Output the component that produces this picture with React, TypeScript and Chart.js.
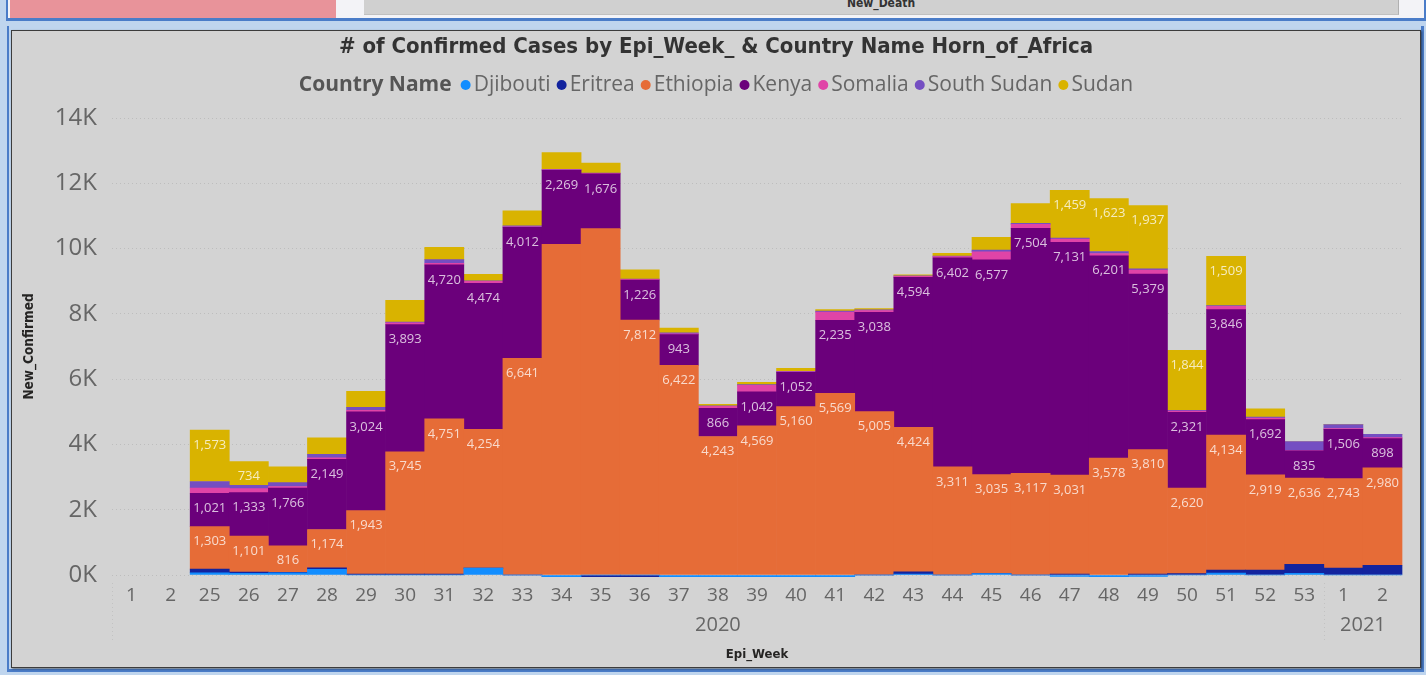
import { useEffect, useRef } from "react";
import { Chart, registerables } from "chart.js";

Chart.register(...registerables);

// ---------- data ----------
const weeks = ["1", "2", "25", "26", "27", "28", "29", "30", "31", "32", "33", "34", "35", "36", "37", "38", "39", "40", "41", "42", "43", "44", "45", "46", "47", "48", "49", "50", "51", "52", "53", "1", "2"];
const weekYears = ["2020", "2020", "2020", "2020", "2020", "2020", "2020", "2020", "2020", "2020", "2020", "2020", "2020", "2020", "2020", "2020", "2020", "2020", "2020", "2020", "2020", "2020", "2020", "2020", "2020", "2020", "2020", "2020", "2020", "2020", "2020", "2021", "2021"];

const djibouti = [null, null, 70, 50, 70, 170, 0, 0, 0, 210, 0, -50, 0, 0, -50, -50, -50, -50, -50, 0, 30, 0, 40, 0, -40, -50, -40, 0, 60, 0, 50, 0, 0];
const eritrea = [null, null, 110, 40, 10, 50, 30, 30, 30, 0, 0, 0, -50, -50, 0, 0, 0, 0, 0, 0, 70, 0, 0, 0, 30, 0, 30, 40, 90, 150, 280, 210, 300];
const ethiopia = [null, null, 1303, 1101, 816, 1174, 1943, 3745, 4751, 4254, 6641, 10130, 10610, 7812, 6422, 4243, 4569, 5160, 5569, 5005, 4424, 3311, 3035, 3117, 3031, 3578, 3810, 2620, 4134, 2919, 2636, 2743, 2980];
const kenya = [null, null, 1021, 1333, 1766, 2149, 3024, 3893, 4720, 4474, 4012, 2269, 1676, 1226, 943, 866, 1042, 1052, 2235, 3038, 4594, 6402, 6577, 7504, 7131, 6201, 5379, 2321, 3846, 1692, 835, 1506, 898];
const somalia = [null, null, 160, 120, 50, 50, 50, 60, 50, 60, 10, 10, 20, 20, 20, 60, 200, 10, 250, 60, 30, 40, 250, 120, 100, 70, 120, 40, 100, 50, 10, 30, 30];
const southSudan = [null, null, 200, 100, 120, 100, 90, 20, 110, 10, 30, 20, 10, 10, 30, 10, 20, 20, 30, 20, 20, 20, 50, 30, 30, 60, 40, 20, 20, 30, 280, 120, 100];
const sudan = [null, null, 1573, 734, 480, 510, 490, 670, 380, 200, 460, 510, 300, 280, 150, 50, 70, 90, 50, 40, 30, 80, 390, 610, 1459, 1623, 1937, 1844, 1509, 250, 0, 0, 0];

const countries = ["Djibouti", "Eritrea", "Ethiopia", "Kenya", "Somalia", "South Sudan", "Sudan"];
const countryColors = ["#118DFF", "#12239E", "#E66C37", "#6B007B", "#E044A7", "#744EC2", "#D9B300"];
const seriesValues = [djibouti, eritrea, ethiopia, kenya, somalia, southSudan, sudan];

const yTicks = [0, 2000, 4000, 6000, 8000, 10000, 12000, 14000];
const labelledSeries = ["Ethiopia", "Kenya", "Sudan"];
const minLabelValue = 700;
const ethiopiaUnlabelledWeeks = ["34", "35"];

const TITLE = "# of Confirmed Cases by Epi_Week_ & Country Name Horn_of_Africa";
const LEGEND_TITLE = "Country Name";

const COND = "'DejaVu Sans Condensed', 'Liberation Sans Narrow', 'Open Sans', sans-serif";
const SANS = "'Open Sans', 'Noto Sans', sans-serif";

// year groups derived from weekYears
function yearGroups() {
  const groups: { year: string; first: number; last: number; center: number }[] = [];
  weekYears.forEach((y, i) => {
    const g = groups.find((gg) => gg.year === y);
    if (g) g.last = i;
    else groups.push({ year: y, first: i, last: i, center: 0 });
  });
  groups.forEach((g) => (g.center = (g.first + g.last) / 2));
  return groups;
}

const overlayPlugin = {
  id: "overlay",
  afterDraw(chart: any) {
    const ctx = chart.ctx;
    const w = chart.width;
    ctx.save();
    // title
    ctx.font = `bold 22px ${COND}`;
    ctx.fillStyle = "#333333";
    ctx.textAlign = "center";
    ctx.textBaseline = "middle";
    ctx.fillText(TITLE, w / 2, 15);

    // legend
    const ly = 53;
    const fs = 21;
    ctx.font = `bold ${fs}px ${SANS}`;
    const tW = ctx.measureText(LEGEND_TITLE).width;
    ctx.font = `${fs}px ${SANS}`;
    const dotD = 10, dotGap = 3, itemGap = 6, titleGap = 9;
    const items = chart.data.datasets.map((ds: any) => ({
      label: ds.label,
      color: ds.backgroundColor,
      w: ctx.measureText(ds.label).width,
    }));
    let total = tW + titleGap;
    items.forEach((it: any, i: number) => {
      total += dotD + dotGap + it.w + (i < items.length - 1 ? itemGap : 0);
    });
    let x = w / 2 - total / 2;
    ctx.textAlign = "left";
    ctx.font = `bold ${fs}px ${SANS}`;
    ctx.fillStyle = "#555555";
    ctx.fillText(LEGEND_TITLE, x, ly);
    x += tW + titleGap;
    ctx.font = `${fs}px ${SANS}`;
    items.forEach((it: any) => {
      ctx.fillStyle = it.color;
      ctx.beginPath();
      ctx.arc(x + dotD / 2, ly, dotD / 2, 0, Math.PI * 2);
      ctx.fill();
      x += dotD + dotGap;
      ctx.fillStyle = "#666666";
      ctx.fillText(it.label, x, ly);
      x += it.w + itemGap;
    });

    // hierarchy separators on the year axis
    const x2 = chart.scales.x2;
    const xs = chart.scales.x;
    ctx.strokeStyle = "#c2c2c2";
    ctx.lineWidth = 1;
    ctx.setLineDash([1, 3]);
    yearGroups().forEach((g) => {
      const px = Math.round(x2.getPixelForValue(g.first - 0.5)) + 0.5;
      ctx.beginPath();
      ctx.moveTo(px, xs.top + 8);
      ctx.lineTo(px, x2.bottom - 26);
      ctx.stroke();
    });
    ctx.restore();
  },
};

const dataLabelPlugin = {
  id: "dataLabels",
  afterDatasetsDraw(chart: any) {
    const ctx = chart.ctx;
    ctx.save();
    ctx.font = `13px ${SANS}`;
    ctx.textAlign = "center";
    ctx.textBaseline = "middle";
    ctx.fillStyle = "rgba(255,255,255,0.75)";
    chart.data.datasets.forEach((ds: any, di: number) => {
      if (!labelledSeries.includes(ds.label)) return;
      const meta = chart.getDatasetMeta(di);
      meta.data.forEach((bar: any, i: number) => {
        const v = ds.data[i];
        if (v == null || v < minLabelValue) return;
        if (ds.label === "Ethiopia" && ethiopiaUnlabelledWeeks.includes(weeks[i]) && weekYears[i] === "2020") return;
        ctx.fillText(v.toLocaleString("en-US"), bar.x, bar.y + 15);
      });
    });
    ctx.restore();
  },
};

function ChartView() {
  const ref = useRef<HTMLCanvasElement | null>(null);
  useEffect(() => {
    if (!ref.current) return;
    const groups = yearGroups();
    const chart = new Chart(ref.current, {
      type: "bar",
      data: {
        labels: weeks,
        datasets: countries.map((c, i) => ({
          label: c,
          data: seriesValues[i] as any,
          backgroundColor: countryColors[i],
          borderWidth: 0,
          barPercentage: 1,
          categoryPercentage: 1,
          clip: false as any,
        })),
      },
      options: {
        animation: false,
        responsive: false,
        maintainAspectRatio: false,
        layout: { padding: { top: 86, right: 18, left: 0, bottom: 0 } },
        plugins: {
          legend: { display: false },
          title: { display: false },
          tooltip: { enabled: false },
        },
        scales: {
          x: {
            stacked: true,
            position: "bottom",
            weight: 0,
            grid: { display: false, drawTicks: false },
            border: { display: false },
            ticks: {
              autoSkip: false,
              maxRotation: 0,
              color: "#666666",
              font: { size: 19, family: SANS },
              padding: 9,
            },
            afterFit: (s: any) => {
              s.height = 38;
            },
          },
          x2: {
            type: "linear",
            position: "bottom",
            weight: 1,
            offset: false,
            min: -0.5,
            max: weeks.length - 0.5,
            grid: { display: false, drawTicks: false, offset: false },
            border: { display: false },
            afterBuildTicks: (s: any) => {
              s.ticks = groups.map((g) => ({ value: g.center }));
            },
            ticks: {
              autoSkip: false,
              maxRotation: 0,
              color: "#666666",
              font: { size: 20, family: SANS },
              padding: 0,
              callback: (v: any) => {
                const g = groups.find((gg) => gg.center === v);
                return g ? g.year : "";
              },
            },
            title: {
              display: true,
              text: "Epi_Week",
              color: "#252423",
              font: { size: 13, weight: "bold", family: COND },
              padding: { top: 0, bottom: 4 },
            },
            afterFit: (s: any) => {
              s.height = 53;
            },
          },
          y: {
            stacked: true,
            min: 0,
            max: 14000,
            afterBuildTicks: (s: any) => {
              s.ticks = yTicks.map((v) => ({ value: v }));
            },
            grid: {
              color: "#bdbdbd",
              lineWidth: 1,
              drawTicks: false,
            },
            border: { display: false, dash: [1, 3] },
            ticks: {
              color: "#666666",
              font: { size: 24, family: SANS },
              padding: 15,
              callback: (v: any) => `${Number(v) / 1000}K`,
            },
            title: {
              display: true,
              text: "New_Confirmed",
              color: "#252423",
              font: { size: 13.5, weight: "bold", family: COND },
              padding: { top: 9, bottom: 0 },
            },
            afterFit: (s: any) => {
              s.width = 100;
            },
          },
        },
      } as any,
      plugins: [dataLabelPlugin, overlayPlugin],
    });
    return () => chart.destroy();
  }, []);
  return <canvas ref={ref} width={1408} height={634} style={{ width: 1408, height: 634, display: "block" }} />;
}

export default function App() {
  return (
    <div style={{ position: "fixed", left: 0, top: 0, width: 1426, height: 675, background: "#bfd5ee", overflow: "hidden" }}>
      {/* upper visual (partially visible) */}
      <div style={{ position: "absolute", left: 6, top: -4, width: 1416, height: 22, background: "#f3f3f7", borderLeft: "2px solid #4a7cc8", borderRight: "3px solid #4a7cc8", borderBottom: "3px solid #4a7cc8" }} />
      <div style={{ position: "absolute", left: 10, top: 0, width: 326, height: 18, background: "#e8939a" }} />
      <div style={{ position: "absolute", left: 364, top: -4, width: 1034, height: 18, background: "#d0d0d0", borderRight: "1px solid #b0b0b0", borderBottom: "1px solid #c0c0c0", overflow: "hidden" }}>
        <div style={{ position: "absolute", left: 0, right: 0, top: 0, textAlign: "center", font: `bold 12px ${COND}`, color: "#333" }}>New_Death</div>
      </div>
      {/* main visual */}
      <div style={{ position: "absolute", left: 7, top: 26, width: 1417, height: 646, borderLeft: "2px solid #4a7cc8", borderRight: "3px solid #4a7cc8", borderBottom: "3px solid #4a7cc8", boxSizing: "border-box" }} />
      <div style={{ position: "absolute", left: 11, top: 30, width: 1410, height: 638, background: "#d3d3d3", border: "1px solid #3c3c3c", boxSizing: "border-box", boxShadow: "1px 1px 2px rgba(0,0,0,0.5)" }} />
      <div style={{ position: "absolute", left: 12, top: 32 }}>
        <ChartView />
      </div>
    </div>
  );
}
